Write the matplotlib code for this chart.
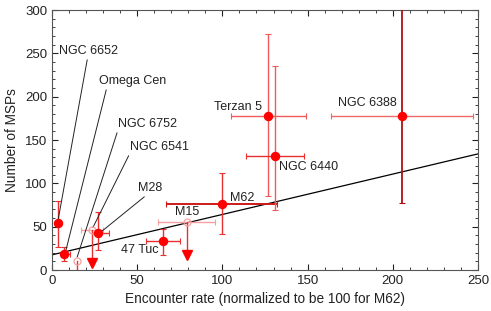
import matplotlib
matplotlib.use('Agg')
import matplotlib.pyplot as plt
from matplotlib.ticker import MultipleLocator

plt.rcParams['font.family'] = ['Liberation Sans', 'DejaVu Sans']

# clusters with a measured MSP number (filled points)
det_names = ['NGC 6652', 'Omega Cen', 'M28', '47 Tuc', 'M62', 'Terzan 5', 'NGC 6440', 'NGC 6388']
det_x = [3.5, 7, 27, 65, 100, 127, 131, 205.5]
det_x_lo = [3.5, 5.5, 23.3, 55, 67, 105, 114, 164]
det_x_hi = [3.5, 10.5, 33.6, 75, 132, 149, 148, 247]
det_y = [54, 19, 43, 33, 76, 178, 132, 178]
det_y_lo = [27, 10, 23, 17, 41, 85, 69, 77]
det_y_hi = [80, 27, 67, 47, 112, 272, 235, 310]

# upper limits (open circles with arrow)
ul_names = ['NGC 6752', 'NGC 6541', 'M15']
ul_x = [14.5, 23.5, 79]
ul_x_lo = [14.5, 17, 62]
ul_x_hi = [14.5, 30, 95.6]
ul_y = [10.5, 46, 55.5]
ul_arrow = [-8, 8, 17]

# linear fit
fit_intercept = 17.5
fit_slope = 0.466

fig = plt.figure(figsize=(4.91, 3.11), dpi=100)
ax = fig.add_axes([0.1059, 0.1318, 0.8676, 0.836])

# fit line
fx = [0, 250]
ax.plot(fx, [fit_intercept + fit_slope * v for v in fx], color='black', lw=0.9, zorder=2)

# horizontal / vertical bar colors
hcol = ['#e83030', '#e83030', '#e83030', '#e83030', '#cc1a1a', '#f05a5a', '#e83030', '#f06a6a']
vcol = ['#e83030', '#e83030', '#e83030', '#e83030', '#e83030', '#f05a5a', '#f05a5a', '#b01010']
hlw = [1, 1, 1, 1, 1.4, 1, 1, 1]
vlw = [1, 1, 1, 1, 1, 1, 1, 1.3]
for i in range(len(det_x)):
    if det_x_hi[i] > det_x_lo[i]:
        ax.errorbar(det_x[i], det_y[i],
                    xerr=[[det_x[i] - det_x_lo[i]], [det_x_hi[i] - det_x[i]]],
                    fmt='none', ecolor=hcol[i], elinewidth=hlw[i], capsize=2, capthick=0.8, zorder=3)
    ax.errorbar(det_x[i], det_y[i],
                yerr=[[det_y[i] - det_y_lo[i]], [det_y_hi[i] - det_y[i]]],
                fmt='none', ecolor=vcol[i], elinewidth=vlw[i], capsize=2, capthick=0.8, zorder=3)
ax.plot(det_x, det_y, 'o', color='#ff0000', ms=5.8, zorder=5, ls='none')

for i in range(len(ul_x)):
    if ul_x_hi[i] > ul_x_lo[i]:
        ax.errorbar(ul_x[i], ul_y[i],
                    xerr=[[ul_x[i] - ul_x_lo[i]], [ul_x_hi[i] - ul_x[i]]],
                    fmt='none', ecolor='#f4a0a0', elinewidth=1, capsize=2, capthick=0.8, zorder=3)
    ax.plot([ul_x[i], ul_x[i]], [ul_y[i], ul_arrow[i]], color='#e83030', lw=1, zorder=3)
    ax.plot(ul_x[i], ul_arrow[i], 'v', color='#ff0000', ms=7, zorder=5)
ax.plot(ul_x, ul_y, 'o', mfc='none', mec='#f4a0a0', ms=5, mew=0.9, ls='none', zorder=4)

fs = 9
# labels with leader lines: (text x, text y, relpos x, target x, target y)
leaders = {
    'NGC 6652': (4, 252.7, 0.49, 3.6, 58),
    'Omega Cen': (27.5, 218, 0.12, 8.2, 23),
    'NGC 6752': (38.7, 168.5, 0.0, 14.8, 15),
    'NGC 6541': (45.8, 142, 0.0, 24, 49),
    'M28': (50.5, 94.6, 0.4, 28.8, 44),
}
for name, (tx, ty, rp, px, py) in leaders.items():
    ax.annotate(name, xy=(px, py), xytext=(tx, ty), ha='left', va='center',
                fontsize=fs, color='#222222',
                arrowprops=dict(arrowstyle='-', color='#222222', lw=0.7,
                                shrinkA=0, shrinkB=0, relpos=(rp, 0)))

plain = {
    '47 Tuc': (40.5, 23),
    'M15': (72.2, 67),
    'M62': (104.5, 83),
    'Terzan 5': (95, 188),
    'NGC 6440': (133.2, 119),
    'NGC 6388': (167.8, 192.7),
}
for name, (tx, ty) in plain.items():
    ax.text(tx, ty, name, ha='left', va='center', fontsize=fs, color='#222222', zorder=6)

ax.set_xlim(0, 250)
ax.set_ylim(0, 300)
ax.xaxis.set_major_locator(MultipleLocator(50))
ax.xaxis.set_minor_locator(MultipleLocator(10))
ax.yaxis.set_major_locator(MultipleLocator(50))
ax.yaxis.set_minor_locator(MultipleLocator(10))
ax.tick_params(which='both', direction='in', top=True, right=True, labelsize=9.5, colors='#222222')
ax.tick_params(which='major', length=4, width=0.8)
ax.tick_params(which='minor', length=2, width=0.6)
for s in ax.spines.values():
    s.set_color('#555555')
    s.set_linewidth(0.8)

ax.set_xlabel('Encounter rate (normalized to be 100 for M62)', fontsize=9.8, color='#222222', labelpad=4)
ax.set_ylabel('Number of MSPs', fontsize=9.8, color='#222222', labelpad=4)

fig.savefig('out.png', dpi=100)
